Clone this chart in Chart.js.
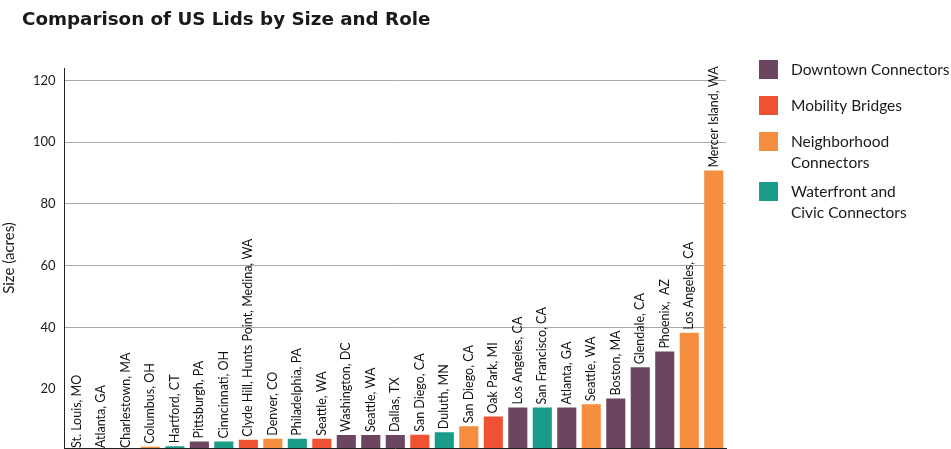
<!DOCTYPE html>
<html>
<head>
<meta charset="utf-8">
<script src="https://cdn.jsdelivr.net/npm/chart.js@4/dist/chart.umd.min.js"></script>
<style>
  html, body { margin: 0; padding: 0; background: #fff; overflow: hidden; }
  #wrap { position: relative; width: 951px; height: 449px; }
</style>
</head>
<body>
<div id="wrap"><canvas id="lidsChart" width="951" height="449"></canvas></div>
<script>
// Data
const cities = [
  'St. Louis, MO', 'Atlanta, GA', 'Charlestown, MA', 'Columbus, OH', 'Hartford, CT',
  'Pittsburgh, PA', 'Cinncinnati, OH', 'Clyde Hill, Hunts Point, Medina, WA', 'Denver, CO',
  'Philadelphia, PA', 'Seattle, WA', 'Washington, DC', 'Seattle, WA', 'Dallas, TX',
  'San Diego, CA', 'Duluth, MN', 'San Diego, CA', 'Oak Park, MI', 'Los Angeles, CA',
  'San Francisco, CA', 'Atlanta, GA', 'Seattle, WA', 'Boston, MA', 'Glendale, CA',
  'Phoenix,  AZ', 'Los Angeles, CA', 'Mercer Island, WA'
];
const sizes = [
  0, 0, 0, 1.4, 1.6,
  3.1, 3.1, 3.7, 4.0,
  4.0, 4.0, 5.2, 5.2, 5.2,
  5.3, 6.1, 8.0, 11.2, 14.1,
  14.1, 14.1, 15.2, 17.0, 27.1,
  32.2, 38.3, 90.8
];
// 0 = Downtown, 1 = Mobility, 2 = Neighborhood, 3 = Waterfront/Civic
const roles = [
  0, 0, 0, 2, 3,
  0, 3, 1, 2,
  3, 1, 0, 0, 0,
  1, 3, 2, 1, 0,
  3, 0, 2, 0, 0,
  0, 2, 2
];
const roleNames = [
  ['Downtown Connectors'],
  ['Mobility Bridges'],
  ['Neighborhood', 'Connectors'],
  ['Waterfront and', 'Civic Connectors']
];
const roleColors = ['#6c4660', '#ef5233', '#f58e3f', '#1a9a89'];
const yTicks = [20, 40, 60, 80, 100, 120];

const FONT = 'Lato, "Open Sans", sans-serif';

// Title, drawn at the top left
const chartTitle = {
  id: 'chartTitle',
  afterDraw(chart) {
    const ctx = chart.ctx;
    ctx.save();
    ctx.font = 'bold 18.3px "DejaVu Sans", sans-serif';
    ctx.fillStyle = '#1a1a1a';
    ctx.textAlign = 'left';
    ctx.textBaseline = 'middle';
    ctx.fillText('Comparison of US Lids by Size and Role', 22, 20);
    ctx.restore();
  }
};

// Rotated city names sitting on top of each bar
const barLabels = {
  id: 'barLabels',
  afterDatasetsDraw(chart) {
    const ctx = chart.ctx;
    const meta = chart.getDatasetMeta(0);
    ctx.save();
    ctx.font = '12.5px ' + FONT;
    ctx.fillStyle = '#111';
    ctx.textAlign = 'left';
    ctx.textBaseline = 'middle';
    meta.data.forEach((bar, i) => {
      const y = Math.min(bar.y, chart.chartArea.bottom + 3) - 3;
      ctx.save();
      ctx.translate(bar.x, y);
      ctx.rotate(-Math.PI / 2);
      ctx.fillText(cities[i], 0, 0);
      ctx.restore();
    });
    ctx.restore();
  }
};

// Legend on the right side
const sideLegend = {
  id: 'sideLegend',
  afterDraw(chart) {
    const ctx = chart.ctx;
    const rows = [70, 106, 142, 192];
    ctx.save();
    ctx.font = '15.5px ' + FONT;
    ctx.textBaseline = 'middle';
    ctx.textAlign = 'left';
    roleNames.forEach((lines, i) => {
      ctx.fillStyle = roleColors[i];
      ctx.fillRect(759, rows[i] - 10, 19, 19);
      ctx.fillStyle = '#1a1a1a';
      lines.forEach((t, j) => ctx.fillText(t, 791, rows[i] + j * 20.5));
    });
    ctx.restore();
  }
};

new Chart(document.getElementById('lidsChart'), {
  type: 'bar',
  data: {
    labels: cities,
    datasets: [{
      data: sizes,
      backgroundColor: roles.map(r => roleColors[r]),
      barPercentage: 0.78,
      categoryPercentage: 1
    }]
  },
  options: {
    responsive: false,
    animation: false,
    layout: { padding: { left: 0, right: 225, top: 68, bottom: 0 } },
    plugins: {
      legend: { display: false },
      tooltip: { enabled: false },
      title: { display: false }
    },
    scales: {
      x: {
        grid: { display: false, drawTicks: false },
        border: { display: true, color: '#222', width: 1 },
        ticks: { display: false },
        afterFit: axis => { axis.height = 1; axis.paddingLeft = 0; axis.paddingRight = 0; }
      },
      y: {
        min: 1,
        max: 124,
        afterBuildTicks: axis => { axis.ticks = yTicks.map(v => ({ value: v })); },
        afterFit: axis => { axis.paddingTop = 0; axis.paddingBottom = 0; },
        grid: {
          color: ctx => (ctx.tick && ctx.tick.value === 20 ? 'rgba(0,0,0,0)' : '#a8a8a8'),
          drawTicks: false
        },
        border: { display: true, color: '#222', width: 1 },
        ticks: {
          color: '#1a1a1a',
          padding: 9,
          font: { family: FONT, size: 13 }
        },
        title: {
          display: true,
          text: 'Size (acres)',
          color: '#1a1a1a',
          font: { family: FONT, size: 15 },
          padding: { top: 0, bottom: 6 }
        }
      }
    }
  },
  plugins: [chartTitle, barLabels, sideLegend]
});
</script>
</body>
</html>
